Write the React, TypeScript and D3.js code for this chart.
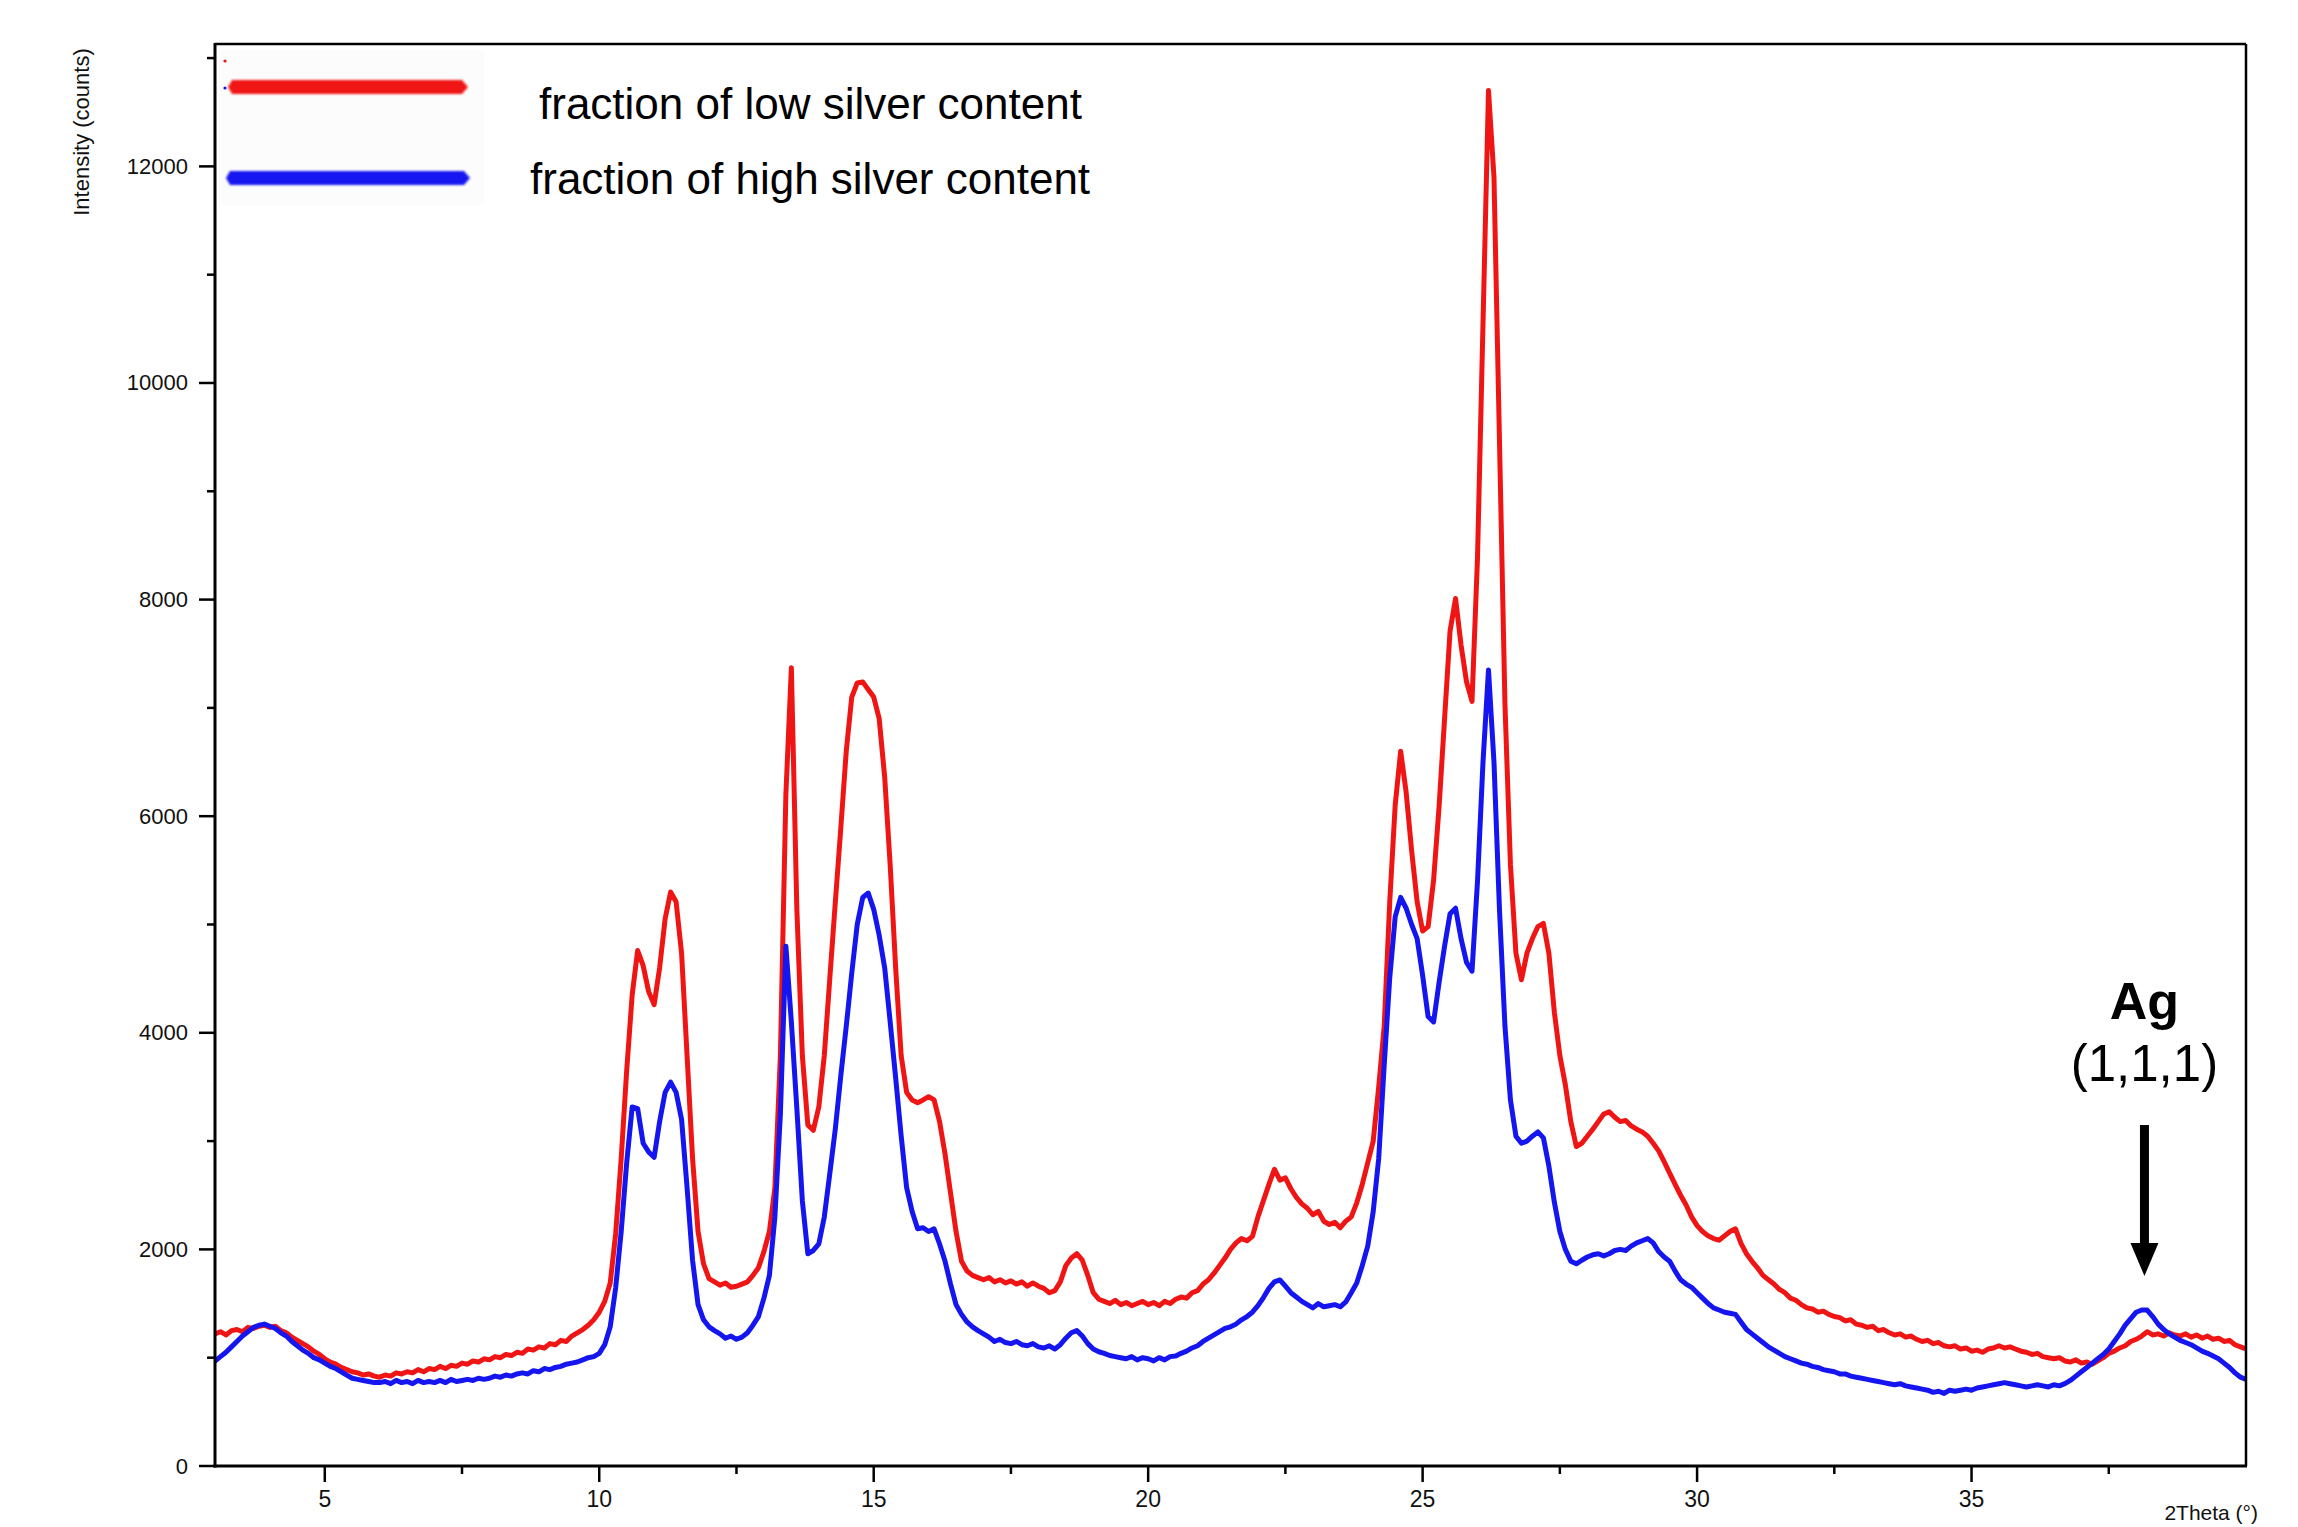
import React from 'react';
import * as d3 from 'd3';

// Powder diffraction scans, 2θ from 3.0° to 40.0° in 0.1° steps (one row per degree)
const ANGLE_START = 3.0;
const ANGLE_STEP = 0.1;

const lowSilver = [
  1220, 1240, 1210, 1250, 1260, 1240, 1280, 1270, 1290, 1300, // 3
  1280, 1290, 1250, 1230, 1190, 1160, 1130, 1100, 1060, 1030, // 4
  990, 960, 940, 910, 890, 870, 860, 840, 850, 830, // 5
  820, 840, 830, 860, 850, 870, 860, 890, 870, 900, // 6
  890, 920, 900, 930, 920, 950, 940, 970, 960, 990, // 7
  980, 1010, 1000, 1030, 1020, 1050, 1040, 1080, 1070, 1100, // 8
  1090, 1130, 1120, 1160, 1150, 1200, 1230, 1260, 1300, 1350, // 9
  1420, 1520, 1690, 2150, 2840, 3650, 4350, 4760, 4620, 4380, // 10
  4260, 4600, 5050, 5300, 5210, 4735, 3790, 2840, 2165, 1867, // 11
  1730, 1700, 1670, 1690, 1650, 1660, 1680, 1700, 1760, 1830, // 12
  1980, 2165, 2570, 3790, 6200, 7370, 5140, 3790, 3150, 3100, // 13
  3315, 3790, 4500, 5200, 5885, 6600, 7100, 7230, 7240, 7170, // 14
  7100, 6900, 6360, 5550, 4600, 3790, 3450, 3380, 3355, 3380, // 15
  3410, 3380, 3180, 2880, 2520, 2165, 1890, 1800, 1760, 1740, // 16
  1720, 1740, 1700, 1720, 1690, 1710, 1680, 1700, 1660, 1690, // 17
  1660, 1640, 1600, 1620, 1700, 1850, 1920, 1960, 1900, 1760, // 18
  1600, 1540, 1520, 1500, 1530, 1490, 1510, 1480, 1500, 1520, // 19
  1490, 1510, 1480, 1520, 1500, 1540, 1560, 1550, 1600, 1620, // 20
  1680, 1720, 1780, 1850, 1920, 2000, 2060, 2100, 2080, 2120, // 21
  2300, 2450, 2600, 2740, 2640, 2660, 2560, 2480, 2420, 2380, // 22
  2320, 2350, 2260, 2230, 2250, 2200, 2260, 2300, 2430, 2600, // 23
  2800, 3000, 3500, 4060, 5200, 6100, 6600, 6220, 5680, 5210, // 24
  4940, 4980, 5410, 6090, 6900, 7710, 8010, 7580, 7240, 7060, // 25
  8390, 10550, 12700, 11900, 9470, 7035, 5550, 4735, 4490, 4735, // 26
  4870, 4980, 5010, 4735, 4190, 3790, 3520, 3180, 2950, 2980, // 27
  3045, 3110, 3180, 3250, 3270, 3220, 3180, 3190, 3140, 3110, // 28
  3085, 3045, 2980, 2910, 2810, 2705, 2600, 2500, 2410, 2300, // 29
  2220, 2165, 2125, 2100, 2085, 2125, 2165, 2190, 2055, 1960, // 30
  1890, 1830, 1760, 1720, 1680, 1630, 1600, 1550, 1530, 1490, // 31
  1460, 1450, 1420, 1430, 1400, 1380, 1370, 1340, 1350, 1310, // 32
  1300, 1280, 1290, 1250, 1260, 1230, 1210, 1220, 1190, 1200, // 33
  1170, 1150, 1160, 1130, 1140, 1110, 1100, 1110, 1080, 1090, // 34
  1060, 1070, 1050, 1080, 1090, 1110, 1090, 1100, 1080, 1060, // 35
  1050, 1030, 1040, 1010, 1000, 990, 1000, 970, 960, 980, // 36
  950, 960, 940, 970, 1000, 1040, 1060, 1090, 1110, 1150, // 37
  1170, 1200, 1240, 1210, 1220, 1200, 1230, 1210, 1200, 1220, // 38
  1190, 1210, 1180, 1200, 1170, 1180, 1150, 1160, 1120, 1100, // 39
  1080, // 40
];

const highSilver = [
  970, 1010, 1050, 1100, 1150, 1200, 1240, 1280, 1300, 1310, // 3
  1290, 1270, 1230, 1200, 1150, 1110, 1070, 1040, 1000, 980, // 4
  950, 920, 900, 870, 840, 810, 800, 790, 780, 770, // 5
  770, 780, 760, 790, 770, 780, 760, 790, 770, 780, // 6
  770, 790, 770, 800, 780, 790, 800, 790, 810, 800, // 7
  810, 830, 820, 840, 830, 850, 860, 850, 880, 870, // 8
  900, 890, 910, 920, 940, 950, 960, 980, 1000, 1010, // 9
  1040, 1120, 1285, 1650, 2165, 2800, 3315, 3300, 2980, 2900, // 10
  2850, 3180, 3450, 3545, 3450, 3200, 2570, 1900, 1490, 1350, // 11
  1285, 1250, 1220, 1180, 1200, 1170, 1190, 1230, 1300, 1380, // 12
  1550, 1760, 2300, 3250, 4800, 4100, 3300, 2450, 1960, 1990, // 13
  2050, 2300, 2700, 3110, 3600, 4060, 4550, 5000, 5250, 5290, // 14
  5140, 4900, 4600, 4100, 3585, 3050, 2570, 2350, 2190, 2200, // 15
  2165, 2190, 2050, 1890, 1680, 1490, 1400, 1330, 1285, 1250, // 16
  1220, 1190, 1150, 1170, 1140, 1130, 1150, 1120, 1110, 1130, // 17
  1100, 1090, 1110, 1080, 1120, 1180, 1230, 1250, 1200, 1130, // 18
  1080, 1055, 1040, 1020, 1010, 1000, 990, 1010, 980, 1000, // 19
  990, 970, 1000, 980, 1010, 1015, 1040, 1060, 1090, 1110, // 20
  1150, 1180, 1210, 1240, 1270, 1285, 1310, 1350, 1380, 1420, // 21
  1480, 1555, 1640, 1700, 1718, 1660, 1600, 1560, 1520, 1490, // 22
  1460, 1500, 1470, 1480, 1490, 1470, 1515, 1600, 1690, 1850, // 23
  2030, 2350, 2840, 3700, 4500, 5070, 5250, 5150, 5000, 4870, // 24
  4530, 4150, 4100, 4465, 4800, 5100, 5150, 4870, 4650, 4570, // 25
  5400, 6500, 7350, 6500, 5140, 4060, 3380, 3045, 2980, 3000, // 26
  3045, 3085, 3030, 2770, 2435, 2165, 2000, 1890, 1867, 1900, // 27
  1930, 1950, 1960, 1940, 1960, 1990, 2000, 1990, 2030, 2060, // 28
  2080, 2100, 2060, 1980, 1930, 1890, 1800, 1720, 1680, 1650, // 29
  1600, 1550, 1500, 1460, 1440, 1420, 1410, 1400, 1330, 1260, // 30
  1220, 1180, 1140, 1100, 1070, 1040, 1010, 990, 970, 950, // 31
  940, 920, 910, 890, 880, 870, 850, 850, 830, 820, // 32
  810, 800, 790, 780, 770, 760, 750, 760, 740, 730, // 33
  720, 710, 700, 680, 690, 670, 700, 690, 700, 710, // 34
  700, 720, 730, 740, 750, 760, 770, 760, 750, 740, // 35
  730, 740, 750, 740, 730, 750, 740, 760, 790, 830, // 36
  870, 910, 950, 990, 1030, 1080, 1150, 1220, 1300, 1360, // 37
  1420, 1440, 1440, 1380, 1310, 1260, 1220, 1190, 1160, 1140, // 38
  1120, 1090, 1060, 1040, 1015, 990, 950, 910, 860, 820, // 39
  800, // 40
];

const xMajorTicks = [5, 10, 15, 20, 25, 30, 35];
const xMinorTicks = [7.5, 12.5, 17.5, 22.5, 27.5, 32.5, 37.5];
const yMajorTicks = [0, 2000, 4000, 6000, 8000, 10000, 12000];
const yMinorTicks = [1000, 3000, 5000, 7000, 9000, 11000, 13000];

const seriesNames = ['fraction of low silver content', 'fraction of high silver content'];
const seriesColors = ['#f01515', '#1515f0'];

const agPeakAngle = 38.15;
const agLabel = 'Ag';
const agIndices = '(1,1,1)';
const xAxisTitle = '2Theta (°)';
const yAxisTitle = 'Intensity (counts)';

const W = 2298;
const H = 1527;
const FONT = '"Liberation Sans", Arial, Helvetica, sans-serif';

export default function App() {
  const left = 215;
  const right = 2246;
  const top = 44;
  const bottom = 1466;

  const x = d3.scaleLinear().domain([3, 40]).range([left, right]);
  const y = d3.scaleLinear().domain([0, 13130]).range([bottom, top]);

  const angleAt = (i: number) => ANGLE_START + i * ANGLE_STEP;
  const line = d3
    .line<number>()
    .x((_, i) => x(angleAt(i)))
    .y((d) => y(d));

  const axX = x(agPeakAngle);

  const legendLine = (x0: number, x1: number, cy: number, h: number) =>
    `M${x0 - 4},${cy} L${x0},${cy - h / 2} L${x1 - 6},${cy - h / 2} L${x1},${cy} L${x1 - 6},${cy + h / 2} L${x0},${cy + h / 2} Z`;

  return (
    <svg
      width={W}
      height={H}
      viewBox={`0 0 ${W} ${H}`}
      style={{ position: 'absolute', left: 0, top: 0, display: 'block', background: '#fff' }}
      fontFamily={FONT}
    >
      <defs>
        <clipPath id="plot-area">
          <rect x={left} y={top} width={right - left} height={bottom - top} />
        </clipPath>
        <filter id="soft" x="-5%" y="-50%" width="110%" height="200%">
          <feGaussianBlur stdDeviation="1.2" />
        </filter>
      </defs>
      <rect x={0} y={0} width={W} height={H} fill="#fff" />

      {/* diffraction traces */}
      <g clipPath="url(#plot-area)" fill="none" strokeLinejoin="round" strokeLinecap="round">
        <path d={line(lowSilver) ?? ''} stroke={seriesColors[0]} strokeWidth={5} />
        <path d={line(highSilver) ?? ''} stroke={seriesColors[1]} strokeWidth={5} />
      </g>

      {/* legend */}
      <rect x={218} y={50} width={266} height={155} fill="#fcfcfc" />
      <circle cx={225} cy={61} r={1.6} fill={seriesColors[0]} />
      <circle cx={225} cy={88} r={1.6} fill={seriesColors[1]} />
      <path d={legendLine(232, 468, 87, 14)} fill={seriesColors[0]} filter="url(#soft)" />
      <path d={legendLine(230, 470, 178, 14)} fill={seriesColors[1]} filter="url(#soft)" />
      <text x={539} y={119} fontSize={44} fill="#000">
        {seriesNames[0]}
      </text>
      <text x={530} y={194} fontSize={44} fill="#000">
        {seriesNames[1]}
      </text>

      {/* frame */}
      <line x1={left} y1={top} x2={right} y2={top} stroke="#000" strokeWidth={2.5} />
      <line x1={right} y1={top} x2={right} y2={bottom} stroke="#000" strokeWidth={2.5} />
      <line x1={left} y1={top - 1} x2={left} y2={bottom + 1.5} stroke="#000" strokeWidth={3} />
      <line x1={left - 1.5} y1={bottom} x2={right + 1} y2={bottom} stroke="#000" strokeWidth={3} />

      {/* y axis */}
      {yMajorTicks.map((t) => (
        <g key={`ym${t}`}>
          <line x1={left - 16} x2={left} y1={y(t)} y2={y(t)} stroke="#000" strokeWidth={2.5} />
          <text x={188} y={y(t)} fontSize={22} textAnchor="end" dominantBaseline="central" fill="#111">
            {t}
          </text>
        </g>
      ))}
      {yMinorTicks.map((t) => (
        <line key={`yn${t}`} x1={left - 8} x2={left} y1={y(t)} y2={y(t)} stroke="#000" strokeWidth={2.5} />
      ))}
      <text
        transform={`translate(81,132) rotate(-90)`}
        fontSize={22}
        textAnchor="middle"
        dominantBaseline="central"
        fill="#111"
      >
        {yAxisTitle}
      </text>

      {/* x axis */}
      {xMajorTicks.map((t) => (
        <g key={`xm${t}`}>
          <line x1={x(t)} x2={x(t)} y1={bottom} y2={bottom + 16} stroke="#000" strokeWidth={2.5} />
          <text x={x(t)} y={1507} fontSize={23} textAnchor="middle" fill="#111">
            {t}
          </text>
        </g>
      ))}
      {xMinorTicks.map((t) => (
        <line key={`xn${t}`} x1={x(t)} x2={x(t)} y1={bottom} y2={bottom + 8} stroke="#000" strokeWidth={2.5} />
      ))}
      <text x={2258} y={1520} fontSize={21} textAnchor="end" fill="#111">
        {xAxisTitle}
      </text>

      {/* silver (111) reflection marker */}
      <text x={axX} y={1019} fontSize={52} fontWeight="bold" textAnchor="middle" fill="#000">
        {agLabel}
      </text>
      <text x={axX} y={1081} fontSize={51} textAnchor="middle" fill="#000">
        {agIndices}
      </text>
      <rect x={axX - 4.5} y={1125} width={9} height={122} fill="#000" />
      <path d={`M${axX - 14},${1243} L${axX + 14},${1243} L${axX},${1276} Z`} fill="#000" />
    </svg>
  );
}
